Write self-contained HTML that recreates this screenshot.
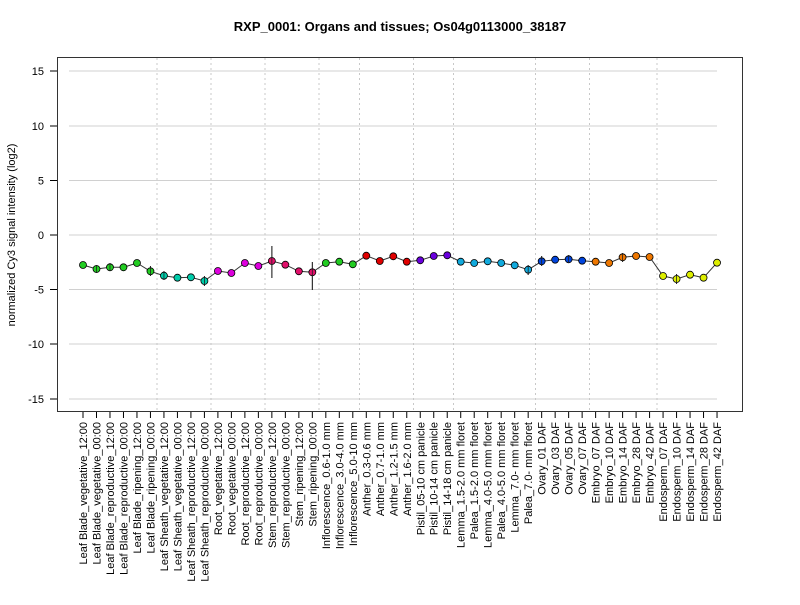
<!DOCTYPE html>
<html><head><style>body{margin:0;background:#fff}</style></head><body>
<svg width="800" height="600" xmlns="http://www.w3.org/2000/svg" font-family="Liberation Sans, Arial, sans-serif" id="s">
<rect width="800" height="600" fill="#fff"/>
<text x="400" y="31" text-anchor="middle" font-weight="bold" font-size="13">RXP_0001: Organs and tissues; Os04g0113000_38187</text>
<g id="grid"></g>
<rect x="57.5" y="57.5" width="685" height="354" fill="none" stroke="#333" stroke-width="1"/>
<g font-size="11" text-anchor="end">
<line x1="50" x2="57" y1="71" y2="71" stroke="#000"/><text x="44" y="75">15</text>
<line x1="50" x2="57" y1="126" y2="126" stroke="#000"/><text x="44" y="130">10</text>
<line x1="50" x2="57" y1="180.5" y2="180.5" stroke="#000"/><text x="44" y="184.5">5</text>
<line x1="50" x2="57" y1="235" y2="235" stroke="#000"/><text x="44" y="239">0</text>
<line x1="50" x2="57" y1="289.5" y2="289.5" stroke="#000"/><text x="44" y="293.5">-5</text>
<line x1="50" x2="57" y1="344" y2="344" stroke="#000"/><text x="44" y="348">-10</text>
<line x1="50" x2="57" y1="399" y2="399" stroke="#000"/><text x="44" y="403">-15</text>
</g>
<text transform="translate(15,235) rotate(-90)" text-anchor="middle" font-size="11">normalized Cy3 signal intensity (log2)</text>
<g id="d"></g>
</svg>
<script>
var ns="http://www.w3.org/2000/svg";
function el(p,t,a,txt){var e=document.createElementNS(ns,t);for(var k in a)e.setAttribute(k,a[k]);if(txt)e.textContent=txt;p.appendChild(e);return e;}
var g=document.getElementById('grid'),d=document.getElementById('d');
[71,126,180.5,235,289.5,344,399].forEach(function(y){el(g,'line',{x1:69,x2:717,y1:y,y2:y,stroke:'#d0d0d0'});});
[157,211,265,319,359.5,413.5,453.5,535.5,589.5,657].forEach(function(x){el(g,'line',{x1:x,x2:x,y1:58,y2:411,stroke:'#c8c8c8','stroke-dasharray':'2,3'});});
var L=["Leaf Blade_vegetative_12:00","Leaf Blade_vegetative_00:00","Leaf Blade_reproductive_12:00","Leaf Blade_reproductive_00:00","Leaf Blade_ripening_12:00","Leaf Blade_ripening_00:00","Leaf Sheath_vegetative_12:00","Leaf Sheath_vegetative_00:00","Leaf Sheath_reproductive_12:00","Leaf Sheath_reproductive_00:00","Root_vegetative_12:00","Root_vegetative_00:00","Root_reproductive_12:00","Root_reproductive_00:00","Stem_reproductive_12:00","Stem_reproductive_00:00","Stem_ripening_12:00","Stem_ripening_00:00","Inflorescence_0.6-1.0 mm","Inflorescence_3.0-4.0 mm","Inflorescence_5.0-10 mm","Anther_0.3-0.6 mm","Anther_0.7-1.0 mm","Anther_1.2-1.5 mm","Anther_1.6-2.0 mm","Pistil_05-10 cm panicle","Pistil_10-14 cm panicle","Pistil_14-18 cm panicle","Lemma_1.5-2.0 mm floret","Palea_1.5-2.0 mm floret","Lemma_4.0-5.0 mm floret","Palea_4.0-5.0 mm floret","Lemma_7.0- mm floret","Palea_7.0- mm floret","Ovary_01 DAF","Ovary_03 DAF","Ovary_05 DAF","Ovary_07 DAF","Embryo_07 DAF","Embryo_10 DAF","Embryo_14 DAF","Embryo_28 DAF","Embryo_42 DAF","Endosperm_07 DAF","Endosperm_10 DAF","Endosperm_14 DAF","Endosperm_28 DAF","Endosperm_42 DAF"];
var Y=[265,269,267.3,267.3,263,271.3,275.7,277.7,277.3,281,271,273,263,266,261,264.7,271.3,272.3,263,261.7,264.3,255.7,261,256.3,261.7,260.3,256,255.3,261.7,263,261.3,263,265.3,269.7,261.3,259.7,259.3,260.7,261.7,263,257.3,256,257,276,279,274.7,277.7,262.7];
var C=[];function rep(c,n){for(var i=0;i<n;i++)C.push(c);}
rep('#22cc22',6);rep('#00ccaa',4);rep('#dd00dd',4);rep('#e0106a',4);rep('#22cc22',3);rep('#e00000',4);rep('#6a00dd',3);rep('#11aadd',6);rep('#0044dd',4);rep('#ee7700',5);rep('#ddee00',5);
var pts=[];
for(var i=0;i<48;i++){var x=83+i*13.49;pts.push(x.toFixed(1)+','+Y[i]);
el(d,'line',{x1:x,x2:x,y1:412,y2:418,stroke:'#000'});
el(d,'text',{transform:'translate('+(x+4)+',422) rotate(-90)','text-anchor':'end','font-size':'11'},L[i]);}
el(d,'polyline',{points:pts.join(' '),fill:'none',stroke:'#333','stroke-width':1});
var E={14:[246,278],17:[262,290],1:[265,273],2:[263,271],5:[266,276],6:[271,280],9:[276,286],33:[265,275],34:[256,266],36:[255,263],40:[253,262],44:[274,284]};
for(var k in E){var x=83+k*13.49;el(d,'line',{x1:x,x2:x,y1:E[k][0],y2:E[k][1],stroke:'#222'});}
for(var i=0;i<48;i++){var x=83+i*13.49;el(d,'circle',{cx:x,cy:Y[i],r:3.5,fill:C[i],stroke:'#000','stroke-width':0.8});}
for(var k in E){var x=83+k*13.49;el(d,'line',{x1:x,x2:x,y1:E[k][0],y2:E[k][1],stroke:'#222','stroke-width':0.8});}
</script>
</body></html>
